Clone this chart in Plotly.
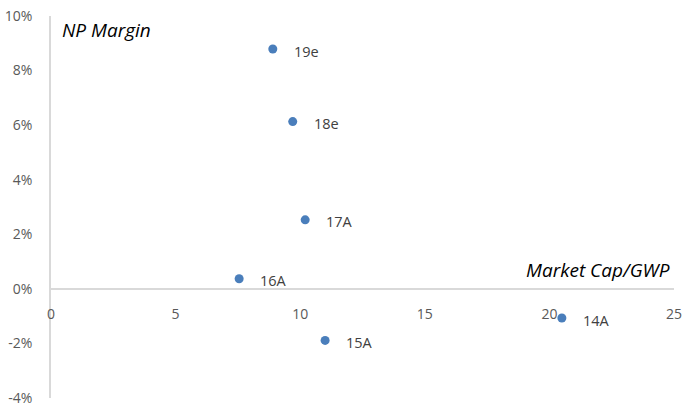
import plotly.graph_objects as go

labels = ["19e", "18e", "17A", "16A", "15A", "14A"]
mcap_gwp = [8.9, 9.7, 10.2, 7.55, 11.0, 20.5]
np_margin = [0.0879, 0.0613, 0.0253, 0.0037, -0.0189, -0.0107]

x_ticks = [0, 5, 10, 15, 20, 25]
y_ticks = [-0.04, -0.02, 0.0, 0.02, 0.04, 0.06, 0.08, 0.10]
y_ticktext = ["-4%", "-2%", "0%", "2%", "4%", "6%", "8%", "10%"]

FONT = "Open Sans"
fig = go.Figure()
fig.add_trace(go.Scatter(
    x=mcap_gwp, y=np_margin, mode="markers",
    marker=dict(size=9, color="#4A7EBB"),
    hoverinfo="skip", showlegend=False,
))
for xv, yv, t in zip(mcap_gwp, np_margin, labels):
    fig.add_annotation(x=xv, y=yv, text=t, showarrow=False, xanchor="left",
                       yanchor="middle", xshift=19, yshift=-2,
                       font=dict(family=FONT, size=14.5, color="#404040"))

fig.add_annotation(xref="paper", yref="paper", x=0.014, y=0.963, text="<i>NP Margin</i>",
                   showarrow=False, xanchor="left", yanchor="middle",
                   font=dict(family=FONT, size=19, color="#000000"))
fig.add_annotation(xref="paper", yref="paper", x=0.996, y=0.334, text="<i>Market Cap/GWP</i>",
                   showarrow=False, xanchor="right", yanchor="middle",
                   font=dict(family=FONT, size=19, color="#000000"))

fig.update_layout(
    width=683, height=408,
    margin=dict(l=51, r=9, t=16, b=10),
    plot_bgcolor="white", paper_bgcolor="white",
    font=dict(family=FONT, size=14, color="#595959"),
    xaxis=dict(range=[0, 25], tickvals=x_ticks, ticktext=[str(v) for v in x_ticks],
               showgrid=False, zeroline=False, automargin=False,
               showline=True, linecolor="#D9D9D9", linewidth=1.5,
               anchor="free", position=4 / 14, ticklabelstandoff=13,
               tickfont=dict(family=FONT, size=14, color="#595959")),
    yaxis=dict(range=[-0.04, 0.10], tickvals=y_ticks, ticktext=y_ticktext,
               showgrid=False, zeroline=False, showline=True, automargin=False,
               linecolor="#D9D9D9", linewidth=1.5, ticklabelstandoff=14,
               tickfont=dict(family=FONT, size=14, color="#595959")),
)
fig.write_html("out.html")
